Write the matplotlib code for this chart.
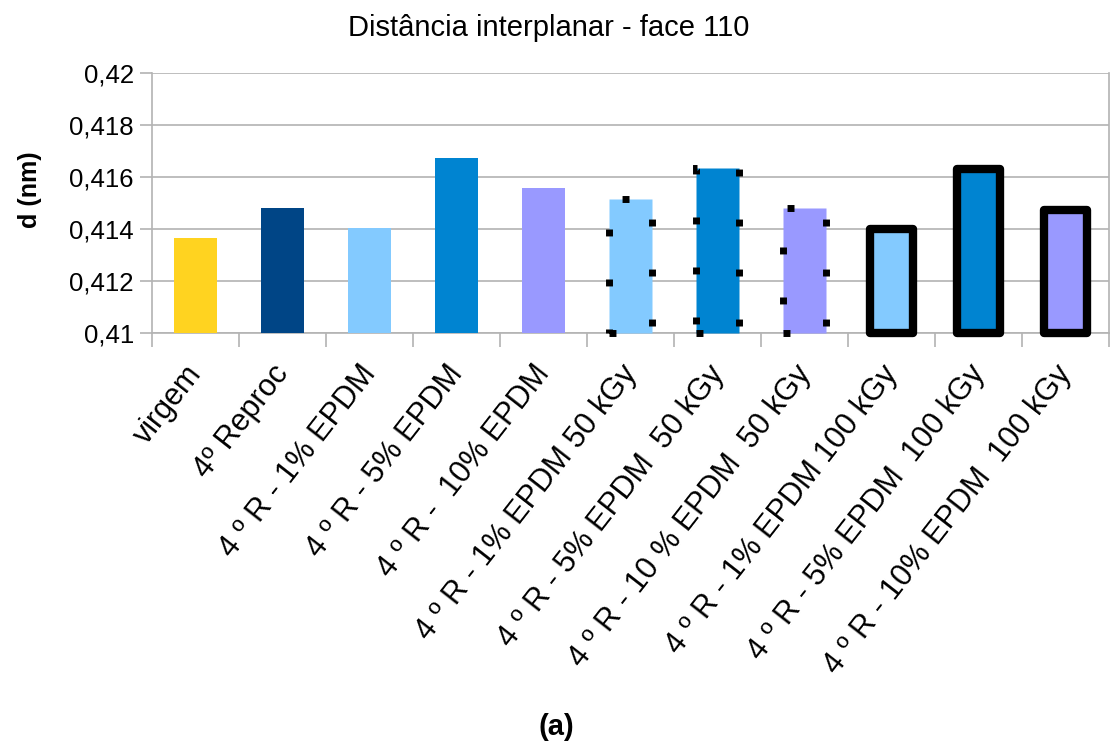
import numpy as np
import matplotlib
matplotlib.use("Agg")
import matplotlib.pyplot as plt
from matplotlib.transforms import ScaledTranslation

labels = ["virgem", "4º Reproc", "4 º R - 1% EPDM", "4 º R - 5% EPDM",
          "4 º R -  10% EPDM", "4 º R - 1% EPDM 50 kGy",
          "4 º R - 5% EPDM  50 kGy", "4 º R - 10 % EPDM  50 kGy",
          "4 º R - 1% EPDM 100 kGy", "4 º R - 5% EPDM  100 kGy",
          "4 º R - 10% EPDM  100 kGy"]
d_nm = [0.41365, 0.41481, 0.41404, 0.41673, 0.41558, 0.41515,
        0.41635, 0.41481, 0.41400, 0.41631, 0.41473]
colors = ["#FFD320", "#004586", "#83CAFF", "#0084D1", "#9999FF",
          "#83CAFF", "#0084D1", "#9999FF", "#83CAFF", "#0084D1", "#9999FF"]
# 0 = plain, 1 = dotted outline (50 kGy), 2 = thick outline (100 kGy)
outline = [0, 0, 0, 0, 0, 1, 1, 1, 2, 2, 2]

plt.rcParams['font.family'] = ['Liberation Sans', 'DejaVu Sans']

fig = plt.figure(figsize=(11.13, 7.46), dpi=100)
ax = fig.add_axes([0.1366, 0.5536, 0.8598, 0.3485])

base = 0.41
x = np.arange(len(labels))
for i in range(len(labels)):
    if outline[i] == 1:
        ax.bar(x[i], d_nm[i] - base, bottom=base, width=0.5, color=colors[i],
               edgecolor='black', linewidth=5, linestyle=(0, (1, 6.2)),
               clip_on=False, zorder=3)
    elif outline[i] == 2:
        ax.bar(x[i], d_nm[i] - base, bottom=base, width=0.5, color=colors[i],
               edgecolor='black', linewidth=6, joinstyle='round',
               clip_on=False, zorder=3)
    else:
        ax.bar(x[i], d_nm[i] - base, bottom=base, width=0.5, color=colors[i],
               zorder=3)

ax.set_xlim(-0.5, len(labels) - 0.5)
ax.set_ylim(0.41, 0.42)
yt = np.arange(0.41, 0.4201, 0.002)
ax.set_yticks(yt)
ax.set_yticklabels([("%g" % round(v, 3)).replace('.', ',') for v in yt],
                   fontsize=18.5)
ax.yaxis.grid(True, color='#b3b3b3', linewidth=1.2, zorder=0)
ax.set_axisbelow(True)

ax.set_xticks(x)
ax.set_xticklabels(labels, rotation=52, ha='right', va='top',
                   rotation_mode='anchor', fontsize=22)
ax.tick_params(axis='x', length=0, pad=17)
# nudge the slanted labels so they end under the bar centre
shift = ScaledTranslation(-0.11, -0.03, fig.dpi_scale_trans)
for lab in ax.get_xticklabels():
    lab.set_transform(lab.get_transform() + shift)
ax.set_xticks(np.arange(-0.5, len(labels)), minor=True)
ax.tick_params(axis='x', which='minor', length=10, color='#b3b3b3', width=1.2)
ax.tick_params(axis='y', length=9, color='#b3b3b3', width=1.2, pad=4)

for side in ['left', 'right', 'bottom']:
    ax.spines[side].set_color('#b3b3b3')
    ax.spines[side].set_linewidth(1.2)
ax.spines['top'].set_visible(False)

fig.text(0.493, 1 - 28 / 746, "Distância interplanar - face 110",
         ha='center', va='center', fontsize=21)
fig.text(0.027, 1 - 190 / 746, "d (nm)", rotation=90, ha='center',
         va='center', fontsize=18, fontweight='bold')
fig.text(0.5, 1 - 727 / 746, "(a)", ha='center', va='center',
         fontsize=21, fontweight='bold')

fig.savefig("out.png", dpi=100)
